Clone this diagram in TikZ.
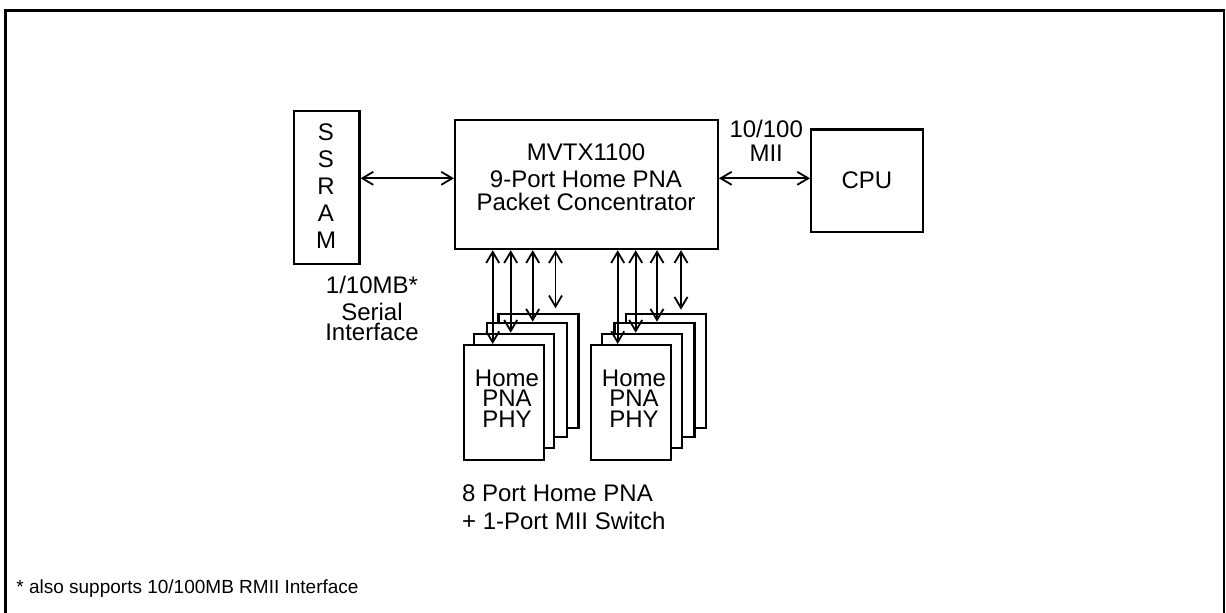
\documentclass[tikz,border=0pt]{standalone}
\usepackage{fontspec}
\setmainfont{Liberation Sans}
\usetikzlibrary{arrows.meta,calc}
\begin{document}
\begin{tikzpicture}[x=0.5pt,y=-0.5pt,
  box/.style={draw,line width=1.1pt,fill=white,inner sep=0pt,anchor=north west},
  card/.style={box,minimum width=40pt,minimum height=57.25pt},
  biarrow/.style={line width=0.9pt,{Straight Barb[length=5.5pt,width=6.5pt]}-{Straight Barb[length=5.5pt,width=6.5pt]}},
  txt/.style={inner sep=0pt,align=center,anchor=base},
]
\useasboundingbox (0,0) rectangle (1226,612);
\draw[line width=1.15pt] (5.5,10.5) rectangle (1223.8,640);

% main boxes
\node[box,minimum width=32.8pt,minimum height=76.35pt] (ssram) at (292.7,110) {};
\node[box,minimum width=131.35pt,minimum height=64.5pt] (main) at (454,119) {};
\node[box,minimum width=55.85pt,minimum height=51.2pt,font=\fontsize{12}{14}\selectfont] (cpu) at (810,128.3) {CPU};

% texts (anchor base = baseline of the last line)
\node[txt,font=\fontsize{12}{13.5}\selectfont] (ssramlbl) at (326,248.5) {S\\S\\R\\A\\M};
\node[txt,font=\fontsize{12}{11.35}\selectfont] (mainlbl) at (586,210) {MVTX1100\\[2.3pt]9-Port Home PNA\\Packet Concentrator};
\node[txt,font=\fontsize{12}{12.3}\selectfont] (miilbl) at (766.2,161.7) {10/100\\MII};
\node[txt,font=\fontsize{12}{10}\selectfont] (serlbl) at (372,340) {1/10MB*\\[3.3pt]Serial\\Interface};
\node[txt,align=left,anchor=base west,font=\fontsize{12}{13.8}\selectfont] (swlbl) at (461.7,529.3) {8 Port Home PNA\\+ 1-Port MII Switch};
\node[txt,align=left,anchor=base west,font=\fontsize{9.5}{11}\selectfont] (note) at (16,593.3) {* also supports 10/100MB RMII Interface};

% PHY cards group 1
\node[card] (c4) at (497.3,312.7) {};
\node[card] (c3) at (485.7,321.7) {};
\node[card] (c2) at (472.7,332.7) {};
\node[card] (c1) at (462.7,344) {};
\node[txt,font=\fontsize{12}{10.3}\selectfont] (c1lbl) at (507,427.3) {Home\\PNA\\PHY};
% PHY cards group 2
\node[card] (d4) at (625,312.7) {};
\node[card] (d3) at (613.3,321.7) {};
\node[card] (d2) at (601,332.7) {};
\node[card] (d1) at (590,344) {};
\node[txt,font=\fontsize{12}{10.3}\selectfont] (d1lbl) at (634,427.3) {Home\\PNA\\PHY};

% connectors
\coordinate (lnk) at (0,178.3);
\draw[biarrow] (ssram.east |- lnk) -- (main.west |- lnk);
\draw[biarrow] (main.east |- lnk) -- (cpu.west |- lnk);

\coordinate (x1) at (492.7,0);
\coordinate (x2) at (510.7,0);
\coordinate (x3) at (532.7,0);
\coordinate (x4) at (555.5,0);
\coordinate (y1) at (617.7,0);
\coordinate (y2) at (635.7,0);
\coordinate (y3) at (657,0);
\coordinate (y4) at (681,0);
\draw[biarrow] (main.south -| x1) -- (c1.north -| x1);
\draw[biarrow] (main.south -| x2) -- (c2.north -| x2);
\draw[biarrow] (main.south -| x3) -- (c3.north -| x3);
\draw[biarrow,shorten >=2.2pt] (main.south -| x4) -- (c4.north -| x4);
\draw[biarrow] (main.south -| y1) -- (d1.north -| y1);
\draw[biarrow] (main.south -| y2) -- (d2.north -| y2);
\draw[biarrow] (main.south -| y3) -- (d3.north -| y3);
\draw[biarrow,shorten >=1.5pt] (main.south -| y4) -- (d4.north -| y4);
\end{tikzpicture}
\end{document}
